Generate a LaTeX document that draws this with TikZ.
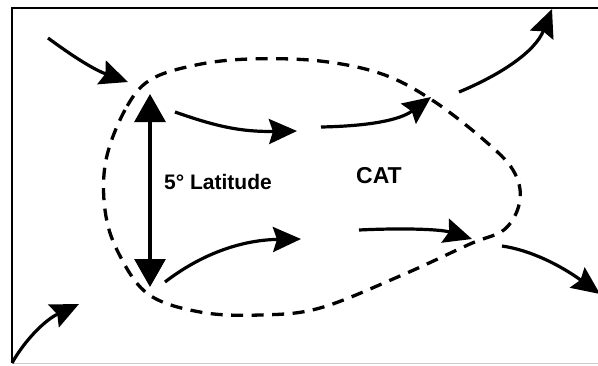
\documentclass[tikz,border=0pt]{standalone}
\usepackage{fontspec}
\setmainfont{Liberation Sans}
\usetikzlibrary{arrows.meta}
\begin{document}
\begin{tikzpicture}[x=1pt,y=-1pt,
  flow/.style={line width=3.2pt,-{Stealth[length=28pt,width=25pt,inset=4pt]}},
  latarrow/.style={line width=3.2pt,{Triangle[length=28pt,width=31pt]}-{Triangle[length=28pt,width=31pt]}},
  frameline/.style={line width=2.4pt},
  boundary/.style={line width=3.3pt,dash pattern=on 12pt off 8.5pt},
  lbl/.style={inner sep=0pt}]
\useasboundingbox (0,0) rectangle (598,365);
% frame
\draw[frameline] (12,363) -- (12,8) -- (598,8);
\draw[line width=1pt,black!20] (12,363.5) -- (598,363.5);
% dashed boundary
\draw[boundary] plot[smooth cycle,tension=0.6] coordinates {
 (150,80) (125,110) (106,160) (105,210) (118,252) (148,294) (200,312) (260,315)
 (320,308) (400,276) (470,244) (505,229) (520,200) (513,170) (484,140)
 (432,100) (382,74) (320,61) (250,59) (196,65)};
% coordinates
\coordinate (a0) at (48,38);  \coordinate (a1) at (128,82);
\coordinate (c0) at (175,112); \coordinate (c1) at (297,131);
\coordinate (d0) at (321,127); \coordinate (d1) at (431,97);
\coordinate (e0) at (459,92);  \coordinate (e1) at (552,9);
\coordinate (f0) at (165,282); \coordinate (f1) at (301,239);
\coordinate (g0) at (359,230); \coordinate (g1) at (472,239);
\coordinate (h0) at (502,246); \coordinate (h1) at (600,294);
\coordinate (i0) at (12,363);  \coordinate (i1) at (79,304);
\coordinate (vt) at (150,94);  \coordinate (vb) at (150,287);
% arrows
\draw[flow] (a0) .. controls (75,58) and (95,70) .. (a1);
\draw[flow] (c0) .. controls (215,126) and (240,132) .. (c1);
\draw[flow] (d0) .. controls (370,126) and (400,120) .. (d1);
\draw[flow] (e0) .. controls (500,75) and (535,52) .. (e1);
\draw[flow] (f0) .. controls (200,255) and (240,240) .. (f1);
\draw[flow] (g0) .. controls (400,228) and (440,229) .. (g1);
\draw[flow] (h0) .. controls (530,250) and (560,265) .. (h1);
\draw[flow] (i0) .. controls (25,340) and (45,320) .. (i1);
\draw[latarrow] (vt) -- (vb);
% labels
\node[lbl,anchor=base west,font=\bfseries\fontsize{21}{21}\selectfont] (lat) at (164,189.5) {5° Latitude};
\node[lbl,anchor=base,font=\bfseries\fontsize{23}{23}\selectfont] (cat) at (379,183.5) {CAT};
\end{tikzpicture}
\end{document}
